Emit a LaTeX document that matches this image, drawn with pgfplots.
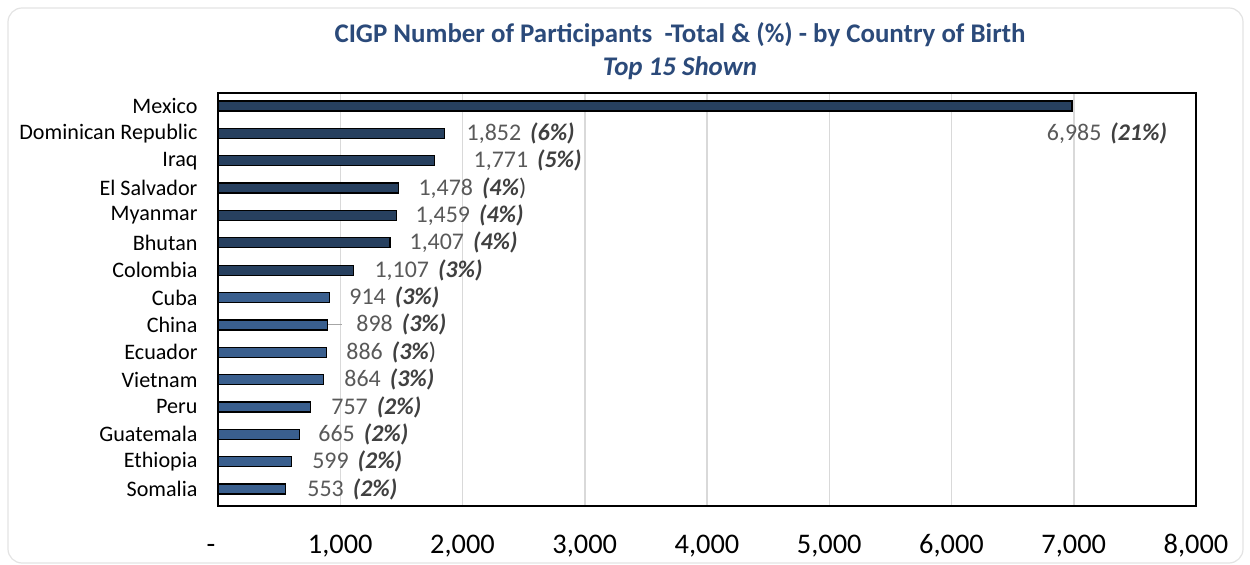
\documentclass[border=0pt]{standalone}
\usepackage{fontspec}
\setmainfont{Carlito}
\usepackage{pgfplots}
\pgfplotsset{compat=1.18}
\definecolor{darkbar}{HTML}{27405F}
\definecolor{lightbar}{HTML}{3A5F8E}
\definecolor{titleblue}{HTML}{2B4A7A}
\definecolor{valgray}{HTML}{595959}
\definecolor{pctgray}{HTML}{404040}
\definecolor{gridgray}{HTML}{D9D9D9}
\newcommand{\lab}[2]{\textcolor{valgray}{#1}\hspace{9bp}\textcolor{pctgray}{\bfseries\itshape #2}}
\begin{document}
\begin{tikzpicture}
\path[use as bounding box] (0,0) rectangle (1250bp,565bp);
\draw[gray!22, line width=1.2bp, rounded corners=14bp] (8bp,2bp) rectangle (1243bp,557bp);
\node[font=\fontsize{27}{31}\selectfont\bfseries, text=titleblue] at (680bp,530bp) {CIGP Number of Participants\ \ -Total \& (\%) - by Country of Birth};
\node[font=\fontsize{27}{31}\selectfont\bfseries\itshape, text=titleblue] at (680bp,497bp) {Top 15 Shown};
\begin{axis}[at={(218bp,59bp)}, anchor=south west, scale only axis, width=978bp, height=413bp,
  xmin=0, xmax=8000, ymin=-0.475, ymax=14.62, y dir=reverse,
  ytick={0,...,14},
  yticklabels={Mexico,Dominican Republic,Iraq,El Salvador,Myanmar,Bhutan,Colombia,Cuba,China,Ecuador,Vietnam,Peru,Guatemala,Ethiopia,Somalia},
  xtick={0,1000,...,8000},
  xticklabels={\hspace{-14bp}-,{1,000},{2,000},{3,000},{4,000},{5,000},{6,000},{7,000},{8,000}},
  major tick length=0pt,
  axis line style={line width=1.3bp, black},
  xmajorgrids, grid style={gridgray, line width=1.5bp},
  yticklabel style={font=\fontsize{22.2}{26}\selectfont, text=black, xshift=-17bp},
  xticklabel style={font=\fontsize{28.5}{33}\selectfont, text=black, text height=20bp, text depth=5bp, yshift=-24bp},
  clip=false]
\addplot[xbar, bar shift=0pt, bar width=10bp, fill=darkbar, draw=black, line width=1.3bp]
  coordinates {(6985,0) (1852,1) (1771,2) (1478,3) (1459,4) (1407,5) (1107,6)};
\addplot[xbar, bar shift=0pt, bar width=10bp, fill=lightbar, draw=black, line width=1.3bp]
  coordinates {(914,7) (898,8) (886,9) (864,10) (757,11) (665,12) (599,13) (553,14)};
\addplot[gray!70, line width=1bp, forget plot] coordinates {(900,8) (1016,8)};
\addplot[draw=none, mark=none, forget plot, nodes near coords, point meta=explicit symbolic,
  nodes near coords align=horizontal,
  nodes near coords style={anchor=west, inner sep=0pt, font=\fontsize{24}{28}\selectfont}]
  coordinates {
   (6779,1) [{\lab{6,985}{(21\%)}}]
   (2033,1) [{\lab{1,852}{(6\%)}}]
   (2090,2) [{\lab{1,771}{(5\%)}}]
   (1639,3) [{\textcolor{valgray}{1,478}\hspace{9bp}\textcolor{pctgray}{\textbf{\textit{(4\%}})}}]
   (1615,4) [{\lab{1,459}{(4\%)}}]
   (1566,5) [{\lab{1,407}{(4\%)}}]
   (1279,6) [{\lab{1,107}{(3\%)}}]
   (1074,7) [{\lab{914}{(3\%)}}]
   (1131,8) [{\lab{898}{(3\%)}}]
   (1049,9) [{\textcolor{valgray}{886}\hspace{9bp}\textcolor{pctgray}{\textbf{\textit{(3\%}})}}]
   (1033,10) [{\lab{864}{(3\%)}}]
   (926,11) [{\lab{757}{(2\%)}}]
   (820,12) [{\lab{665}{(2\%)}}]
   (770,13) [{\lab{599}{(2\%)}}]
   (730,14) [{\lab{553}{(2\%)}}]
  };
\end{axis}
\end{tikzpicture}
\end{document}
